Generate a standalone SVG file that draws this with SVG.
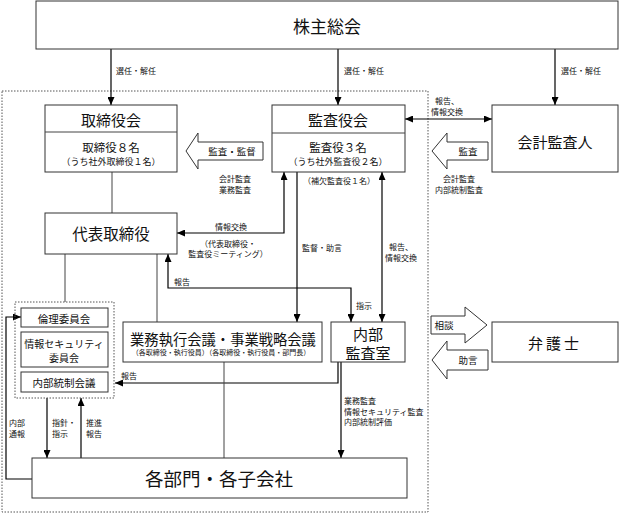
<svg xmlns="http://www.w3.org/2000/svg" width="620" height="513" viewBox="0 0 620 513">
<style>
text{font-family:"Noto Sans CJK JP","Noto Sans CJK SC",sans-serif;fill:#111;dominant-baseline:central}
.box{fill:#fff;stroke:#333;stroke-width:1}
.dot{fill:none;stroke:#555;stroke-width:1;stroke-dasharray:1.5 1.5}
.ln{fill:none;stroke:#444;stroke-width:1}
.ar{fill:none;stroke:#000;stroke-width:1.2}
.hol{fill:#fff;stroke:#333;stroke-width:1}
.c{text-anchor:middle}
.s{font-size:8px}
.m{font-size:9.5px}
</style>
<defs>
<marker id="ah" viewBox="0 0 8 7" refX="8" refY="3.5" markerWidth="8" markerHeight="7" orient="auto-start-reverse" markerUnits="userSpaceOnUse"><path d="M0,0 L8,3.5 L0,7z" fill="#000"/></marker>
</defs>
<rect class="dot" x="2" y="91" width="426" height="421"/>
<g id="connectors">
<path class="ar" d="M111,49 V105" marker-end="url(#ah)"/>
<path class="ar" d="M338,49 V105" marker-end="url(#ah)"/>
<path class="ar" d="M555,49 V105" marker-end="url(#ah)"/>
<path class="ar" d="M405,119 H492" marker-start="url(#ah)" marker-end="url(#ah)"/>
<path class="ar" d="M177,233 H284 V172" marker-start="url(#ah)" marker-end="url(#ah)"/>
<path class="ln" d="M112,172 V213"/>
<path class="ar" d="M297,172 V322" marker-end="url(#ah)"/>
<path class="ar" d="M382,172 V322" marker-start="url(#ah)" marker-end="url(#ah)"/>
<path class="ar" d="M168,254 V288 H351 V322" marker-start="url(#ah)" marker-end="url(#ah)"/>
<path class="ln" d="M65,254 V302"/>
<path class="ln" d="M157,254 V322"/>
<path class="ar" d="M338,362 V383 H115" marker-end="url(#ah)"/>
<path class="ar" d="M341,362 V458" marker-end="url(#ah)"/>
<path class="ln" d="M224,362 V458"/>
<path class="ar" d="M47,398 V458" marker-end="url(#ah)"/>
<path class="ar" d="M81,458 V398" marker-end="url(#ah)"/>
<path class="ar" d="M32,479 H6 V317 H21" marker-end="url(#ah)"/>
<text class="s" x="116" y="70">選任・解任</text>
<text class="s" x="344" y="70">選任・解任</text>
<text class="s" x="561" y="70">選任・解任</text>
<text class="s c" x="447" y="100.5">報告、</text>
<text class="s c" x="447" y="111">情報交換</text>
<text class="s c" x="231" y="226">情報交換</text>
<text class="s c" x="228" y="243">（代表取締役・</text>
<text class="s c" x="228" y="253.5">監査役ミーティング）</text>
<text class="s" x="302" y="247">監督・助言</text>
<text class="s c" x="401" y="246.5">報告、</text>
<text class="s c" x="401" y="257">情報交換</text>
<text class="s" x="174" y="281">報告</text>
<text class="s" x="356" y="305">指示</text>
<text class="s" x="121" y="375">報告</text>
<text class="s" x="344" y="400.5">業務監査</text>
<text class="s" x="344" y="411">情報セキュリティ監査</text>
<text class="s" x="344" y="421.5">内部統制評価</text>
<text class="s" x="9" y="422.5">内部</text>
<text class="s" x="9" y="433">通報</text>
<text class="s" x="52" y="422.5">指針・</text>
<text class="s" x="52" y="433">指示</text>
<text class="s" x="86" y="422.5">推進</text>
<text class="s" x="86" y="433">報告</text>
</g>
<g id="kabunushi">
<rect class="box" x="36" y="1" width="582" height="48"/>
<text class="c" x="327" y="25" font-size="17">株主総会</text>
</g>
<g id="torishimariyakukai">
<rect class="box" x="45" y="105" width="132" height="67"/>
<line class="ln" x1="45" y1="132" x2="177" y2="132"/>
<text class="c" x="111" y="119" font-size="15">取締役会</text>
<text class="c" x="111" y="147" font-size="11.5">取締役８名</text>
<text class="c" x="111" y="161" font-size="9">（うち社外取締役１名）</text>
</g>
<g id="kansa-kantoku">
<polygon class="hol" points="186,151 198,133 198,142 263,142 263,160 198,160 198,169"/>
<text class="m c" x="232" y="151">監査・監督</text>
<text class="s c" x="235" y="178">会計監査</text>
<text class="s c" x="235" y="189">業務監査</text>
</g>
<g id="kansayakukai">
<rect class="box" x="272" y="105" width="133" height="67"/>
<line class="ln" x1="272" y1="133" x2="405" y2="133"/>
<text class="c" x="338" y="119" font-size="15">監査役会</text>
<text class="c" x="338" y="147" font-size="11.5">監査役３名</text>
<text class="c" x="338" y="161" font-size="9">（うち社外監査役２名）</text>
<text class="s c" x="339" y="180">（補欠監査役１名）</text>
</g>
<g id="kaikeikansanin">
<rect class="box" x="492" y="105" width="126" height="67"/>
<text class="c" x="555" y="141" font-size="15">会計監査人</text>
</g>
<g id="kansa-arrow">
<polygon class="hol" points="432,151 447,133 447,142 488,142 488,160 447,160 447,169"/>
<text class="m c" x="468" y="151">監査</text>
<text class="s c" x="459" y="178">会計監査</text>
<text class="s c" x="459" y="189">内部統制監査</text>
</g>
<g id="daihyo">
<rect class="box" x="45" y="213" width="132" height="41"/>
<text class="c" x="111" y="233" font-size="15.5">代表取締役</text>
</g>
<g id="iinkai">
<rect class="dot" x="15" y="302" width="99" height="96"/>
<rect class="box" x="21" y="308" width="87" height="19"/>
<text class="c" x="64" y="318" font-size="10.5">倫理委員会</text>
<rect class="box" x="21" y="332" width="87" height="35"/>
<text class="c" x="64" y="343" font-size="10">情報セキュリティ</text>
<text class="c" x="64" y="357" font-size="10">委員会</text>
<rect class="box" x="21" y="372" width="87" height="20"/>
<text class="c" x="64" y="382" font-size="10.5">内部統制会議</text>
</g>
<g id="gyomu">
<rect class="box" x="123" y="322" width="199" height="40"/>
<text class="c" x="223" y="338" font-size="14.3">業務執行会議・事業戦略会議</text>
<text class="c" x="221" y="352" font-size="7">（各取締役・執行役員）（各取締役・執行役員・部門長）</text>
</g>
<g id="naibukansa">
<rect class="box" x="331" y="322" width="74" height="40"/>
<text class="c" x="368" y="333" font-size="15">内部</text>
<text class="c" x="368" y="352" font-size="15">監査室</text>
</g>
<g id="kakubumon">
<rect class="box" x="32" y="458" width="375" height="40"/>
<text class="c" x="219" y="478" font-size="18.5">各部門・各子会社</text>
</g>
<g id="sodan">
<polygon class="hol" points="431,316 465,316 465,307 487,325 465,343 465,334 431,334"/>
<text class="m c" x="444" y="325">相談</text>
</g>
<g id="jogen">
<polygon class="hol" points="432,360 447,341 447,350 488,350 488,370 447,370 447,379"/>
<text class="m c" x="468" y="360">助言</text>
</g>
<g id="bengoshi">
<rect class="box" x="492" y="322" width="126" height="40"/>
<text class="c" x="555" y="342" font-size="15" letter-spacing="3">弁護士</text>
</g>
</svg>
